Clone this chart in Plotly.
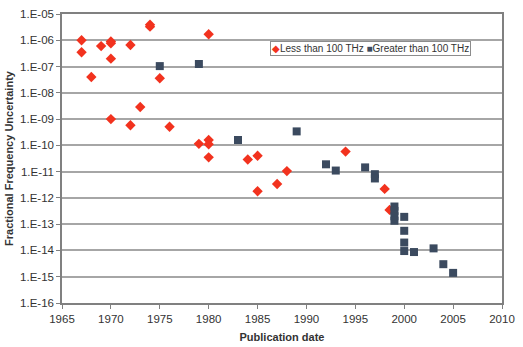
import plotly.graph_objects as go

# Publication year and fractional frequency uncertainty, optical/microwave split
less_years = [1967, 1967, 1968, 1969, 1970, 1970, 1970, 1970, 1972, 1972, 1973,
              1974, 1974, 1975, 1976, 1979, 1980, 1980, 1980, 1980, 1984, 1985,
              1985, 1987, 1988, 1994, 1998, 1998.5]
less_vals = [1.0e-6, 3.5e-7, 4.0e-8, 6.0e-7, 9.0e-7, 7.7e-7, 2.0e-7, 1.0e-9, 6.6e-7, 5.8e-10, 2.9e-9,
             3.9e-6, 3.3e-6, 3.6e-8, 5.1e-10, 1.14e-10, 1.7e-6, 1.6e-10, 1.1e-10, 3.5e-11, 2.9e-11, 4.0e-11,
             1.8e-12, 3.4e-12, 1.05e-11, 5.8e-11, 2.2e-12, 3.5e-13]

greater_years = [1975, 1979, 1983, 1989, 1992, 1993, 1996, 1997, 1997, 1999, 1999, 1999, 1999,
                 2000, 2000, 2000, 2000, 2001, 2003, 2004, 2005]
greater_vals = [1.04e-7, 1.25e-7, 1.6e-10, 3.4e-10, 1.9e-11, 1.1e-11, 1.45e-11, 8.0e-12, 5.5e-12,
                4.7e-13, 3.2e-13, 2.0e-13, 1.35e-13, 1.9e-13, 5.6e-14, 2.0e-14, 9.5e-15,
                8.7e-15, 1.2e-14, 3.0e-15, 1.4e-15]

series_names = ["Less than 100 THz", "Greater than 100 THz"]

y_tick_vals = [10.0 ** e for e in range(-16, -4)]
y_tick_text = ["1.E-%02d" % -e for e in range(-16, -4)]
x_tick_vals = [1965, 1970, 1975, 1980, 1985, 1990, 1995, 2000, 2005, 2010]

RED = "#f2321e"
SLATE = "#3b4a5f"
GRID = "#a6a6a6"
FONT = "Liberation Sans, Arial, sans-serif"

fig = go.Figure()
fig.add_trace(go.Scatter(
    x=less_years, y=less_vals, mode="markers", name=series_names[0],
    marker=dict(symbol="diamond", size=8, color=RED, line=dict(width=0)),
))
fig.add_trace(go.Scatter(
    x=greater_years, y=greater_vals, mode="markers", name=series_names[1],
    marker=dict(symbol="square", size=8, color=SLATE, line=dict(width=0)),
))

# Compact boxed key in the upper right of the plot area
key_text = (
    f'<span style="color:{RED}">◆</span>{series_names[0]} '
    f'<span style="color:{SLATE}">■</span>{series_names[1]}'
)
fig.add_annotation(
    x=0.472, y=0.879, xref="paper", yref="paper", xanchor="left", yanchor="middle",
    text=key_text, showarrow=False, align="left",
    font=dict(family=FONT, size=10, color="#333333"),
    bgcolor="white", bordercolor="#8c8c8c", borderwidth=1, borderpad=1,
)

fig.update_layout(
    width=523, height=347,
    margin=dict(l=62, r=21, t=14, b=44, autoexpand=False),
    paper_bgcolor="white", plot_bgcolor="white",
    font=dict(family=FONT, size=11, color="#333333"),
    showlegend=False,
    xaxis=dict(
        range=[1965, 2010], tickvals=x_tick_vals, ticks="outside", ticklen=4,
        tickcolor="#808080", showgrid=False, zeroline=False,
        showline=True, linecolor="#808080", linewidth=1.5, mirror=True,
        tickfont=dict(size=11.5),
        title=dict(text="<b>Publication date</b>", font=dict(family=FONT, size=11, color="#333333"), standoff=10),
    ),
    yaxis=dict(
        type="log", range=[-16, -5], tickvals=y_tick_vals, ticktext=y_tick_text,
        ticks="outside", ticklen=4, tickcolor="#808080",
        showgrid=True, gridcolor=GRID, gridwidth=1.5, zeroline=False,
        showline=True, linecolor="#808080", linewidth=1.5, mirror=True,
        tickfont=dict(size=11.5),
        title=dict(text="<b>Fractional Frequency Uncertainty</b>", font=dict(family=FONT, size=11, color="#333333"), standoff=4),
    ),
)

fig.write_html("out.html")
